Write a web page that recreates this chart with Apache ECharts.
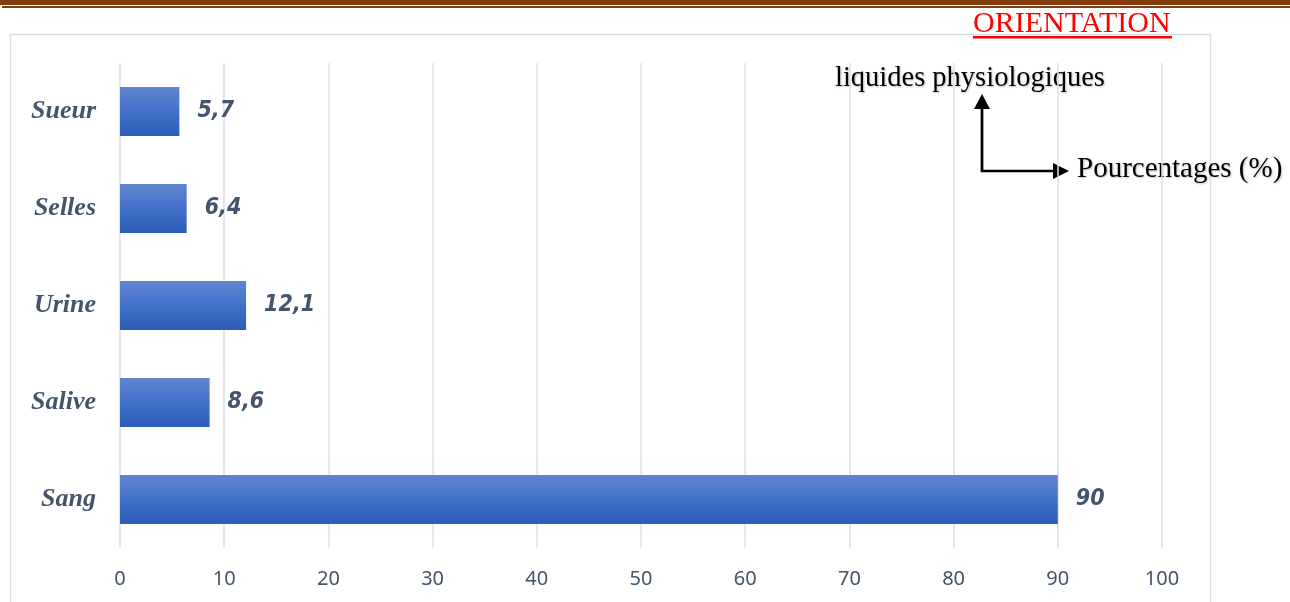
<!DOCTYPE html>
<html><head><meta charset="utf-8">
<script src="https://cdn.jsdelivr.net/npm/echarts@6/dist/echarts.min.js"></script>
<style>html,body{margin:0;padding:0;background:#fff}#c{width:1290px;height:602px}</style>
</head><body><div id="c"></div>
<script>
const categories = ['Sang', 'Salive', 'Urine', 'Selles', 'Sueur'];
const values = [90, 8.6, 12.1, 6.4, 5.7];
const xTicks = [0, 10, 20, 30, 40, 50, 60, 70, 80, 90, 100];

const chart = echarts.init(document.getElementById('c'));
chart.setOption({
  backgroundColor: '#fff',
  animation: false,
  grid: { left: 120, right: 128, top: 63, bottom: 54 },
  xAxis: {
    type: 'value', min: xTicks[0], max: xTicks[xTicks.length - 1], interval: 10,
    axisLine: { show: false }, axisTick: { show: false },
    splitLine: { lineStyle: { color: '#dde1e8', width: 1.5 } },
    axisLabel: { color: '#44546a', fontSize: 20, fontFamily: 'Noto Sans', margin: 21 }
  },
  yAxis: {
    type: 'category', data: categories,
    axisLine: { show: false }, axisTick: { show: false },
    axisLabel: { color: '#44546a', fontSize: 26, fontWeight: 'bold', fontStyle: 'italic',
      fontFamily: 'Liberation Serif', margin: 24 }
  },
  series: [{
    type: 'bar', data: values, barWidth: 49,
    itemStyle: { color: new echarts.graphic.LinearGradient(0, 0, 0, 1, [
      { offset: 0, color: '#6185d0' }, { offset: 0.5, color: '#4271cb' }, { offset: 1, color: '#2d5cb7' }]) },
    label: { show: true, position: 'right', distance: 18, color: '#44546a', fontSize: 23,
      fontWeight: 'bold', fontStyle: 'italic', fontFamily: 'DejaVu Sans Condensed',
      formatter: p => String(p.value).replace('.', ',') }
  }],
  graphic: [
    { type: 'rect', shape: { x: 0, y: 0, width: 1290, height: 5 }, style: { fill: '#843c0c' } },
    { type: 'rect', shape: { x: 2, y: 6, width: 1288, height: 2 }, style: { fill: '#843c0c' } },
    { type: 'rect', shape: { x: 10.5, y: 34.5, width: 1200, height: 600 }, style: { fill: null, stroke: '#d9dce2', lineWidth: 1.5 }, z: -1 },
    { type: 'text', left: 973, top: 9, style: { text: 'ORIENTATION', fill: '#ff0000', font: '30px "Liberation Serif"' } },
    { type: 'rect', shape: { x: 973, y: 36, width: 199, height: 2.5 }, style: { fill: '#ff0000' } },
    { type: 'text', left: 835, top: 64, style: { text: 'liquides physiologiques', fill: '#000', font: '28.5px "Liberation Serif"', textShadowColor: 'rgba(0,0,0,0.25)', textShadowBlur: 2, textShadowOffsetX: 1, textShadowOffsetY: 1 } },
    { type: 'text', left: 1077, top: 155, style: { text: 'Pourcentages (%)', fill: '#000', font: '29px "Liberation Serif"', textShadowColor: 'rgba(0,0,0,0.25)', textShadowBlur: 2, textShadowOffsetX: 1, textShadowOffsetY: 1 } },
    { type: 'polyline', shape: { points: [[982, 105], [982, 171], [1058, 171]] }, style: { stroke: '#000', lineWidth: 2.7, fill: null } },
    { type: 'polygon', shape: { points: [[982, 94], [974, 109], [990, 109]] }, style: { fill: '#000' } },
    { type: 'polygon', shape: { points: [[1069, 171], [1053, 163], [1053, 179]] }, style: { fill: '#000' } }
  ]
});
</script></body></html>
